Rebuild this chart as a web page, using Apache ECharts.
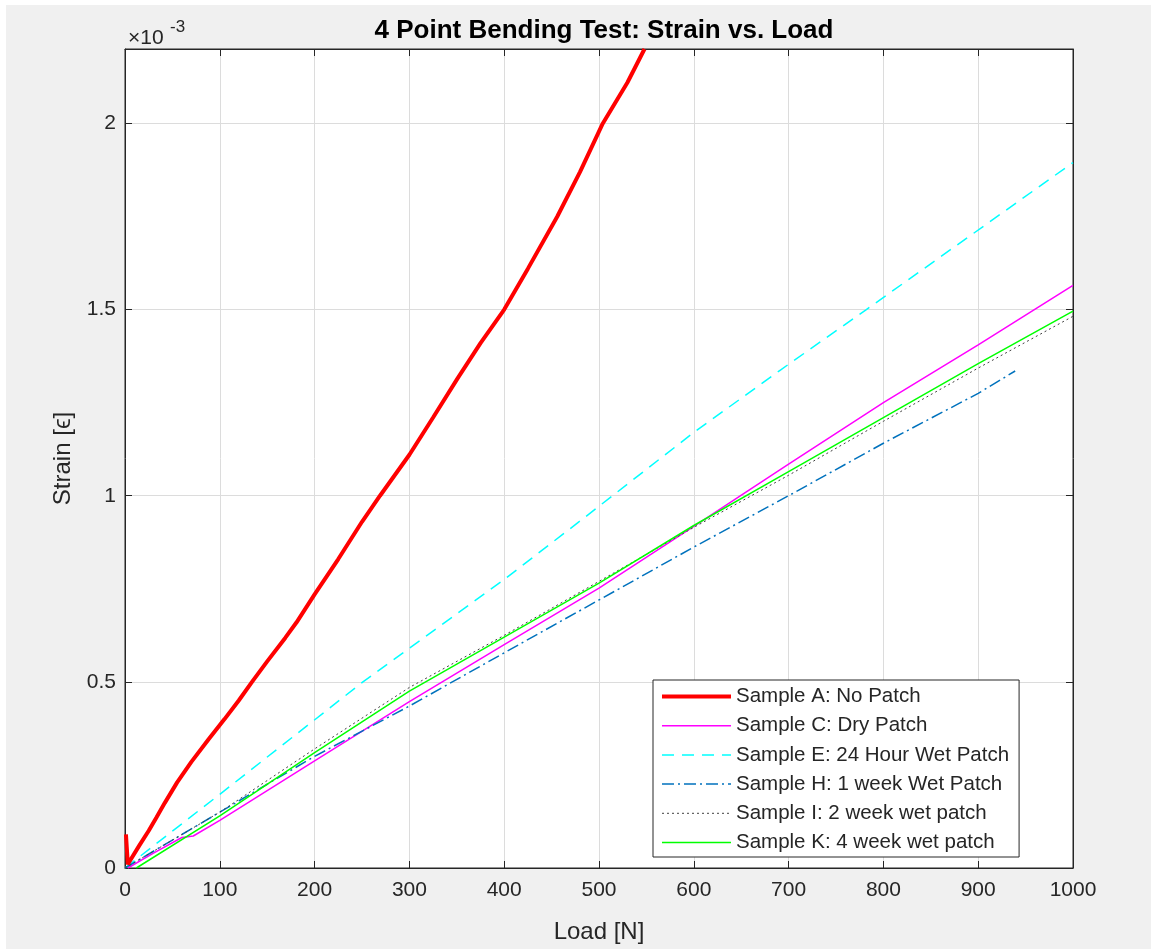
<!DOCTYPE html>
<html>
<head>
<meta charset="utf-8">
<title>4 Point Bending Test: Strain vs. Load</title>
<script src="https://cdn.jsdelivr.net/npm/echarts@6/dist/echarts.min.js"></script>
<style>
    html, body { margin: 0; padding: 0; background: #ffffff; }
    #chart { position: absolute; left: 6px; top: 5px; width: 1145px; height: 944px; }
</style>
</head>
<body>
<div id="chart"></div>
<script>
// 图例名称
var sampleNames = [
    'Sample A: No Patch',
    'Sample C: Dry Patch',
    'Sample E: 24 Hour Wet Patch',
    'Sample H: 1 week Wet Patch',
    'Sample I: 2 week wet patch',
    'Sample K: 4 week wet patch'
];

// [Load N, Strain x10^-3]
var sampleA = [[1, 0.09], [2, 0.05], [3, 0.01], [5, 0.005], [15, 0.06], [25, 0.10], [33, 0.135], [42, 0.175],
    [55, 0.23], [70, 0.285], [88, 0.345], [105, 0.40], [120, 0.45], [134, 0.50], [150, 0.555], [169, 0.618],
    [181, 0.66], [200, 0.735], [225, 0.83], [250, 0.93], [269, 1.0], [300, 1.11], [325, 1.21], [351, 1.316],
    [375, 1.41], [400, 1.5], [425, 1.61], [456, 1.75], [480, 1.87], [504, 2.0], [530, 2.11], [548, 2.2]];
var sampleC = [[3, 0], [30, 0.04], [60, 0.082], [72, 0.086], [100, 0.128], [200, 0.288], [300, 0.447],
    [400, 0.60], [500, 0.752], [600, 0.918], [700, 1.085], [800, 1.25], [900, 1.405], [1000, 1.565]];
var sampleE = [[0, 0], [100, 0.198], [251, 0.5], [400, 0.775], [482, 0.936], [600, 1.17], [691, 1.337],
    [782, 1.5], [1000, 1.895]];
var sampleH = [[0, 0], [100, 0.15], [200, 0.30], [300, 0.435], [400, 0.578], [500, 0.72], [600, 0.862],
    [700, 1.0], [800, 1.141], [900, 1.275], [939, 1.335]];
var sampleI = [[0, 0], [100, 0.15], [200, 0.32], [300, 0.485], [400, 0.625], [500, 0.77], [600, 0.915],
    [700, 1.055], [800, 1.20], [900, 1.343], [1000, 1.482]];
var sampleK = [[12, 0], [100, 0.14], [200, 0.31], [300, 0.475], [400, 0.62], [500, 0.765], [600, 0.92],
    [700, 1.065], [800, 1.21], [900, 1.355], [1000, 1.496]];

// 坐标轴刻度
var loadTicks = { min: 0, max: 1000, interval: 100 };
var strainTicks = { min: 0, max: 2.2, interval: 0.5 };

// 线型
var lineColors = ['#ff0000', '#ff00ff', '#00ffff', '#0072bd', '#404040', '#00ff00'];
var lineWidths = [4, 1.5, 1.5, 1.5, 1, 1.5];
var lineTypes = ['solid', 'solid', [12, 8], [12, 4, 2, 4], [2, 3], 'solid'];
var sampleData = [sampleA, sampleC, sampleE, sampleH, sampleI, sampleK];

var fontFamily = '"Liberation Sans", Arial, Helvetica, sans-serif';
var axisColor = '#262626';

function boxAxis(pos, ticks) {
    return {
        type: 'value',
        position: pos,
        min: ticks.min,
        max: ticks.max,
        interval: ticks.interval,
        axisLine: { show: true, onZero: false, lineStyle: { color: axisColor, width: 1 } },
        axisTick: { show: true, inside: true, length: 7, lineStyle: { color: axisColor } },
        axisLabel: { show: false },
        splitLine: { show: false }
    };
}

var series = sampleNames.map(function (name, i) {
    return {
        name: name,
        type: 'line',
        data: sampleData[i],
        symbol: 'none',
        z: i === 0 ? 3 : 2,
        lineStyle: { color: lineColors[i], width: lineWidths[i], type: lineTypes[i] },
        itemStyle: { color: lineColors[i] }
    };
});

var legendData = sampleNames.map(function (name, i) {
    return {
        name: name,
        itemStyle: { color: 'rgba(0,0,0,0)', borderWidth: 0, opacity: 0 },
        lineStyle: { color: lineColors[i], width: lineWidths[i], type: lineTypes[i] }
    };
});

var chart = echarts.init(document.getElementById('chart'));
var option = {
    backgroundColor: '#f0f0f0',
    animation: false,
    title: {
        text: '4 Point Bending Test: Strain vs. Load',
        left: 593,
        top: 8,
        textAlign: 'center',
        textStyle: { fontFamily: fontFamily, fontSize: 26, fontWeight: 'bold', color: '#000' }
    },
    grid: {
        left: 119, top: 44, right: 78, bottom: 80,
        show: true, backgroundColor: '#ffffff', borderColor: axisColor, borderWidth: 1
    },
    graphic: [
        { type: 'text', left: 122, top: 23, style: { text: '×10', fontFamily: fontFamily, fontSize: 21, fill: axisColor } },
        { type: 'text', left: 164, top: 14, style: { text: '-3', fontFamily: fontFamily, fontSize: 17, fill: axisColor } }
    ],
    legend: {
        orient: 'vertical',
        left: 647,
        top: 675,
        padding: [6, 10, 4, 7],
        itemWidth: 69,
        itemHeight: 14,
        itemGap: 8.2,
        backgroundColor: '#ffffff',
        borderColor: axisColor,
        borderWidth: 1,
        borderRadius: 0,
        textStyle: { fontFamily: fontFamily, fontSize: 20.5, lineHeight: 20, color: axisColor },
        data: legendData
    },
    xAxis: [
        {
            type: 'value',
            min: loadTicks.min, max: loadTicks.max, interval: loadTicks.interval,
            name: 'Load [N]',
            nameLocation: 'middle',
            nameGap: 52,
            nameTextStyle: { fontFamily: fontFamily, fontSize: 24, color: axisColor },
            axisLine: { show: true, onZero: false, lineStyle: { color: axisColor, width: 1 } },
            axisTick: { show: true, inside: true, length: 7, lineStyle: { color: axisColor } },
            axisLabel: {
                margin: 12, fontFamily: fontFamily, fontSize: 21, color: axisColor,
                formatter: function (v) { return String(v); }
            },
            splitLine: { show: true, lineStyle: { color: '#dcdcdc', width: 1 } }
        },
        boxAxis('top', loadTicks)
    ],
    yAxis: [
        {
            type: 'value',
            min: strainTicks.min, max: strainTicks.max, interval: strainTicks.interval,
            name: 'Strain [ϵ]',
            nameLocation: 'middle',
            nameGap: 50,
            nameTextStyle: { fontFamily: fontFamily, fontSize: 24, color: axisColor },
            axisLine: { show: true, onZero: false, lineStyle: { color: axisColor, width: 1 } },
            axisTick: { show: true, inside: true, length: 7, lineStyle: { color: axisColor } },
            axisLabel: { margin: 9, showMaxLabel: false, fontFamily: fontFamily, fontSize: 21, color: axisColor },
            splitLine: { show: true, lineStyle: { color: '#dcdcdc', width: 1 } }
        },
        boxAxis('right', strainTicks)
    ],
    series: series
};
chart.setOption(option);
</script>
</body>
</html>
